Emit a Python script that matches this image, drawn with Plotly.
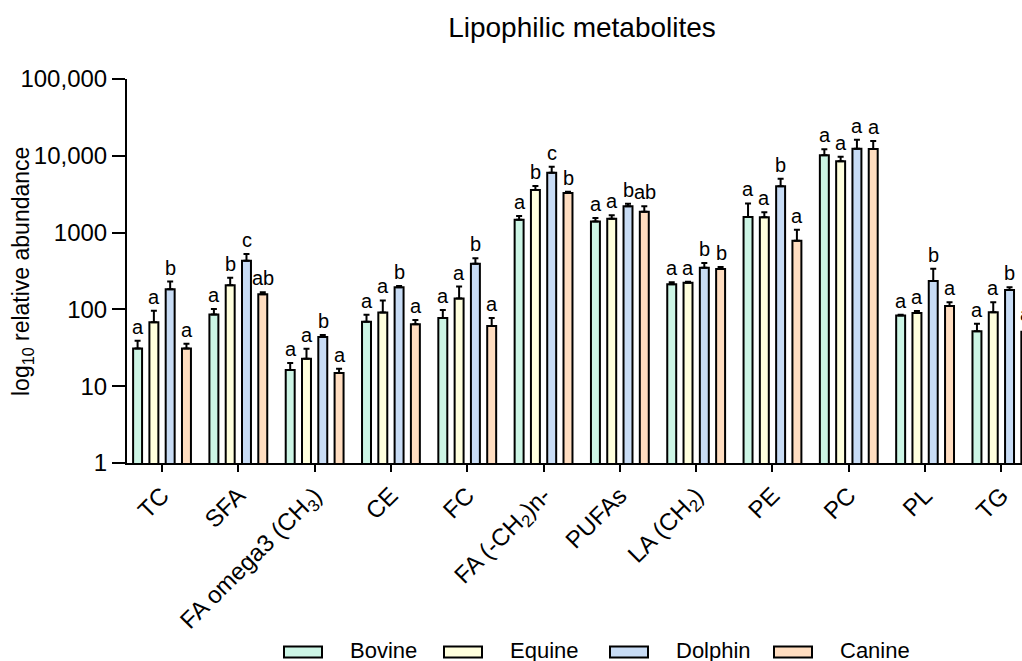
import math
import plotly.graph_objects as go

categories = ["TC", "SFA", "FA omega3 (CH<sub>3</sub>)", "CE", "FC",
              "FA (-CH<sub>2</sub>)n-", "PUFAs", "LA (CH<sub>2</sub>)",
              "PE", "PC", "PL", "TG"]

bovine = [31, 86, 16.3, 69, 77, 1470, 1390, 212, 1600, 10200, 83, 52]
equine = [68, 206, 22.8, 91, 139, 3590, 1520, 222, 1580, 8480, 90, 92]
dolphin = [183, 430, 43.7, 194, 394, 6030, 2200, 349, 4000, 12400, 234, 179]
canine = [31, 157, 14.9, 64, 61, 3280, 1870, 336, 785, 12300, 111, 51]

bovine_err = [8, 15, 3.7, 16, 21, 170, 160, 13, 800, 2000, 2.5, 13]
equine_err = [28, 53, 8, 40, 59, 455, 160, 7, 257, 1250, 5.5, 32]
dolphin_err = [47, 97, 2.7, 8, 68, 1180, 180, 53, 1030, 3800, 105, 15]
canine_err = [4.8, 10, 2, 9, 16, 133, 330, 21, 307, 3300, 13, 7]

bovine_sig = ["a", "a", "a", "a", "a", "a", "a", "a", "a", "a", "a", "a"]
equine_sig = ["a", "b", "a", "a", "a", "b", "a", "a", "a", "a", "a", "a"]
dolphin_sig = ["b", "c", "b", "b", "b", "c", "b", "b", "b", "a", "b", "b"]
canine_sig = ["a", "ab", "a", "a", "a", "b", "ab", "b", "a", "a", "a", "a"]

series_names = ["Bovine", "Equine", "Dolphin", "Canine"]
series_vals = [bovine, equine, dolphin, canine]
series_errs = [bovine_err, equine_err, dolphin_err, canine_err]
series_sigs = [bovine_sig, equine_sig, dolphin_sig, canine_sig]
colors = ["#CCF5E5", "#FFFFDD", "#C8DCF5", "#FFDDC0"]

FONT = "Liberation Sans, Arial, sans-serif"

# figure geometry (pixels) used to place legend items in paper coordinates
W, H = 1022, 661
ML, MR, MT, MB = 127, 0, 79, 198
PW, PH = W - ML - MR, H - MT - MB


def px_x(p):
    return (p - ML) / PW


def px_y(p):
    return (H - MB - p) / PH


fig = go.Figure()
for name, vals, errs, col in zip(series_names, series_vals, series_errs, colors):
    fig.add_trace(go.Bar(
        name=name, x=categories, y=vals, showlegend=False,
        marker=dict(color=col, line=dict(color="black", width=2)),
        error_y=dict(type="data", symmetric=False, array=errs,
                     arrayminus=[0] * len(errs), color="black",
                     thickness=2, width=3),
    ))

# significance letters above error bars
offsets = [-24, -8, 8.5, 25]
for vals, errs, sigs, off in zip(series_vals, series_errs, series_sigs, offsets):
    for c, v, e, s in zip(categories, vals, errs, sigs):
        fig.add_annotation(x=c, y=math.log10(v + e), text=s, showarrow=False,
                           xshift=off, yshift=1, yanchor="bottom",
                           font=dict(size=20, color="black", family=FONT))

# y-axis title
fig.add_annotation(xref="paper", yref="paper", x=px_x(22), y=px_y(272),
                   text="log<sub>10</sub> relative abundance", textangle=-90,
                   showarrow=False, xanchor="center", yanchor="middle",
                   font=dict(size=23, color="black", family=FONT))

# legend (wide rectangular keys as in the original)
legend_left = [284, 444, 610, 774]
key_w, key_h, key_cy, text_gap = 38, 11, 652, 26
for name, col, lx in zip(series_names, colors, legend_left):
    fig.add_shape(type="rect", xref="paper", yref="paper",
                  x0=px_x(lx), x1=px_x(lx + key_w),
                  y0=px_y(key_cy + key_h / 2), y1=px_y(key_cy - key_h / 2),
                  fillcolor=col, line=dict(color="black", width=2))
    fig.add_annotation(xref="paper", yref="paper", x=px_x(lx + key_w + text_gap),
                       y=px_y(650), text=name, showarrow=False,
                       xanchor="left", yanchor="middle",
                       font=dict(size=22, color="black", family=FONT))

fig.update_layout(
    width=W, height=H,
    paper_bgcolor="white", plot_bgcolor="white",
    margin=dict(l=ML, r=MR, t=MT, b=MB),
    barmode="group", bargap=0.146, bargroupgap=0.45,
    title=dict(text="Lipophilic metabolites", x=0.5695, xanchor="center",
               y=0.959, yanchor="middle",
               font=dict(size=28, color="black", family=FONT)),
    font=dict(family=FONT, color="black", size=22),
    showlegend=False,
)
fig.update_xaxes(
    range=[-0.459, 11.27], showline=True, linecolor="black", linewidth=2,
    ticks="outside", ticklen=7, tickwidth=2, tickcolor="black",
    tickangle=-45, tickfont=dict(size=24, family=FONT), showgrid=False,
    automargin=False,
)
fig.update_yaxes(
    type="log", range=[0, 5], showline=True, linecolor="black", linewidth=2,
    ticks="outside", ticklen=13, tickwidth=2, tickcolor="black",
    tickvals=[1, 10, 100, 1000, 10000, 100000],
    ticktext=["1", "10", "100", "1000", "10,000", "100,000"],
    tickfont=dict(size=24, family=FONT), showgrid=False, zeroline=False,
    automargin=False,
)
fig.write_html("out.html", config={"displayModeBar": False},
               post_script="document.body.style.margin='0';"
                           "document.body.style.overflow='hidden';")
